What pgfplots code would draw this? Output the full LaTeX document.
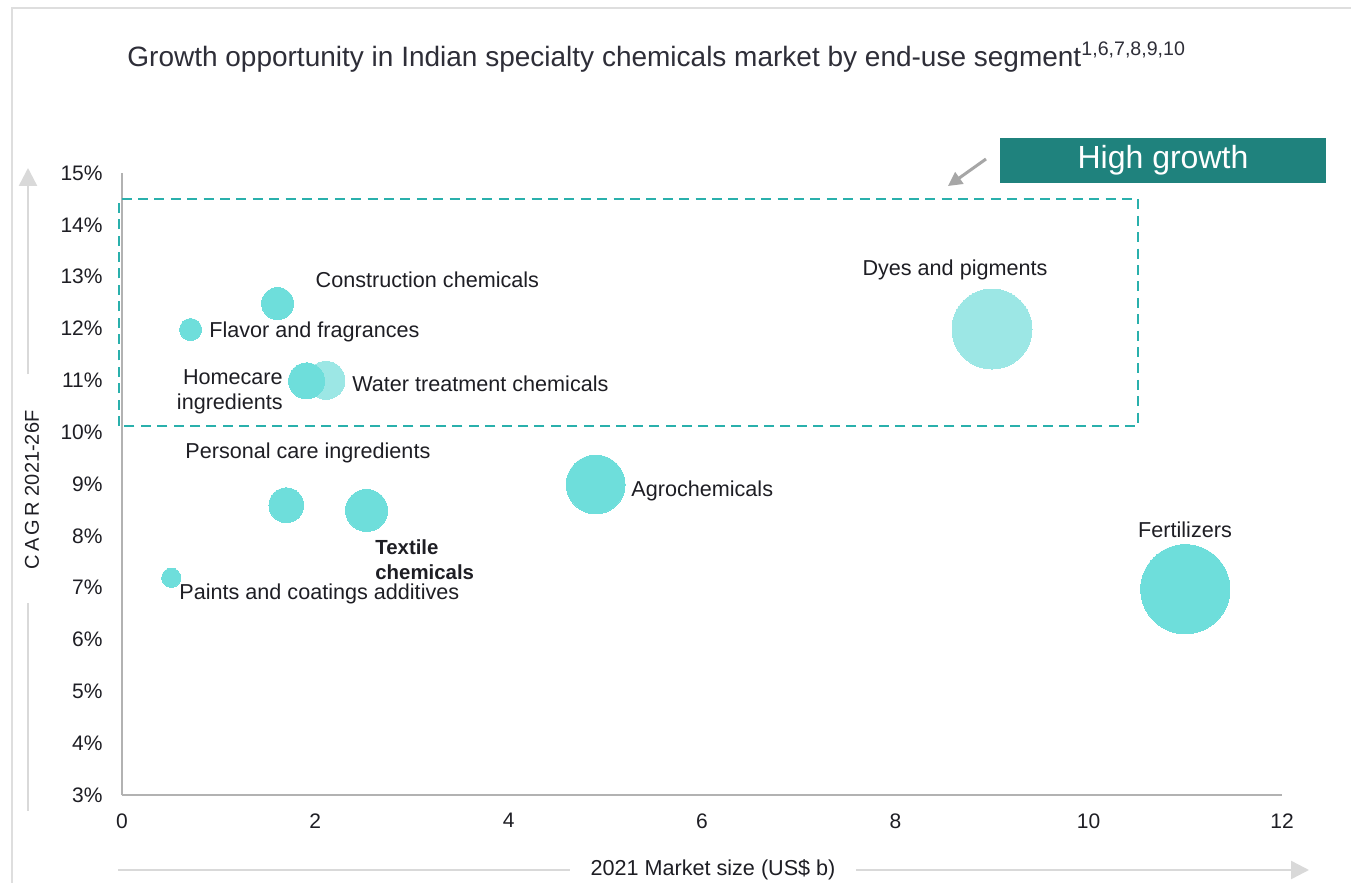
\documentclass[border=0pt]{standalone}
\usepackage{pgfplots}
\pgfplotsset{compat=1.18}
\usepackage{fontspec}
\setmainfont{Liberation Sans}
\usetikzlibrary{arrows.meta}
\definecolor{bub}{HTML}{6EDEDB}
\definecolor{bubl}{HTML}{9CE7E5}
\definecolor{boxteal}{HTML}{2AB0AC}
\definecolor{hg}{HTML}{1F827D}
\definecolor{txt}{HTML}{1E1E24}
\definecolor{ttl}{HTML}{2E2E38}
\definecolor{arr}{HTML}{D9D9D9}

\pgfplotstableread{
x y r
2.11 11.00 9.5
9.00 11.99 20
}\lightbubbles

\pgfplotstableread{
x y r
1.61 12.48 8
0.71 11.98 5.5
1.91 10.99 9
1.70 8.59 8.7
2.53 8.49 10.5
4.90 8.99 14.7
11.00 6.97 22.3
0.51 7.19 4.8
}\bubbles

\begin{document}
\begin{tikzpicture}
\useasboundingbox (0,0) rectangle (675.5pt,-441.5pt);
\fill[white] (0,0) rectangle (675.5pt,-441.5pt);
\begin{scope}[x=0.5pt,y=-0.5pt]
  % frame
  \draw[black!13, line width=0.6pt] (12,900) -- (12,8) -- (1400,8);
  % title
  \node[anchor=west, inner sep=0pt, text=ttl, font=\fontsize{14}{16}\selectfont] at (127,57)
    {Growth opportunity in Indian specialty chemicals market by end-use segment\textsuperscript{1,6,7,8,9,10}};
  % y axis arrow
  \draw[arr, line width=1.2pt, -{Triangle[length=9pt,width=9pt]}] (28,374) -- (28,168);
  \draw[arr, line width=1.2pt] (28,603) -- (28,811);
  \node[rotate=90, inner sep=0pt, text=txt, font=\fontsize{10}{12}\selectfont] at (32,490) {C\,A\,G\,R 2021-26F};
  % x axis arrow
  \draw[arr, line width=1.2pt] (118,870) -- (570,870);
  \draw[arr, line width=1.2pt, -{Triangle[length=9pt,width=9pt]}] (856,870) -- (1309,870);
  \node[inner sep=0pt, text=txt, font=\fontsize{10.8}{12}\selectfont] at (713,870) {2021 Market size (US\$ b)};
  % high growth box
  \fill[hg] (1000,138) rectangle (1326,183);
  \node[inner sep=0pt, text=white, font=\fontsize{16}{18}\selectfont] at (1163,160) {High growth};
  \draw[black!35, line width=1.5pt, -{Triangle[length=7pt,width=7pt]}] (986,159) -- (948,186);
\end{scope}
\begin{axis}[
  at={(61pt,-397.5pt)}, anchor=south west,
  scale only axis, width=580pt, height=311pt,
  xmin=0, xmax=12, ymin=3, ymax=15,
  xtick={0,2,...,12}, ytick={3,4,...,15},
  axis x line*=bottom, axis y line*=left,
  axis line style={black!30, line width=1pt},
  major tick length=0pt,
  /pgf/number format/assume math mode=true,
  yticklabel={\pgfmathprintnumber{\tick}\%},
  ticklabel style={font=\fontsize{10.5}{12}\selectfont, text=txt, inner sep=0pt},
  yticklabel style={xshift=-9.5pt},
  xticklabel style={yshift=-9pt},
  clip=false,
]
\draw[boxteal, line width=1.3pt, dash pattern=on 5pt off 3.2pt] (axis cs:-0.03,10.12) rectangle (axis cs:10.51,14.5);
\addplot[scatter, only marks, mark=*, mark options={draw=bubl, fill=bubl, line width=0pt},
  scatter/use mapped color={draw=bubl, fill=bubl},
  visualization depends on={\thisrow{r} \as \rr},
  scatter/@pre marker code/.append style={/tikz/mark size=\rr}] table {\lightbubbles};
\addplot[scatter, only marks, mark=*, mark options={draw=bub, fill=bub, line width=0pt},
  scatter/use mapped color={draw=bub, fill=bub},
  visualization depends on={\thisrow{r} \as \rr},
  scatter/@pre marker code/.append style={/tikz/mark size=\rr}] table {\bubbles};
\begin{scope}[every node/.style={inner sep=0pt, text=txt, font=\fontsize{10.8}{12.5}\selectfont}]
\node[anchor=west] at (axis cs:2.0,12.94) {Construction chemicals};
\node[anchor=west] at (axis cs:0.90,11.93) {Flavor and fragrances};
\node[anchor=east, align=right] at (axis cs:1.666,10.775) {Homecare\\ingredients};
\node[anchor=west] at (axis cs:2.379,10.93) {Water treatment chemicals};
\node at (axis cs:8.617,13.13) {Dyes and pigments};
\node[anchor=west] at (axis cs:0.652,9.598) {Personal care ingredients};
\node[anchor=west] at (axis cs:5.266,8.865) {Agrochemicals};
\node[anchor=west, align=left, font=\fontsize{10.2}{12.5}\selectfont\bfseries] at (axis cs:2.617,7.53) {Textile\\chemicals};
\node[anchor=west] at (axis cs:0.590,6.878) {Paints and coatings additives};
\node at (axis cs:10.997,8.112) {Fertilizers};
\end{scope}
\end{axis}
\end{tikzpicture}
\end{document}
